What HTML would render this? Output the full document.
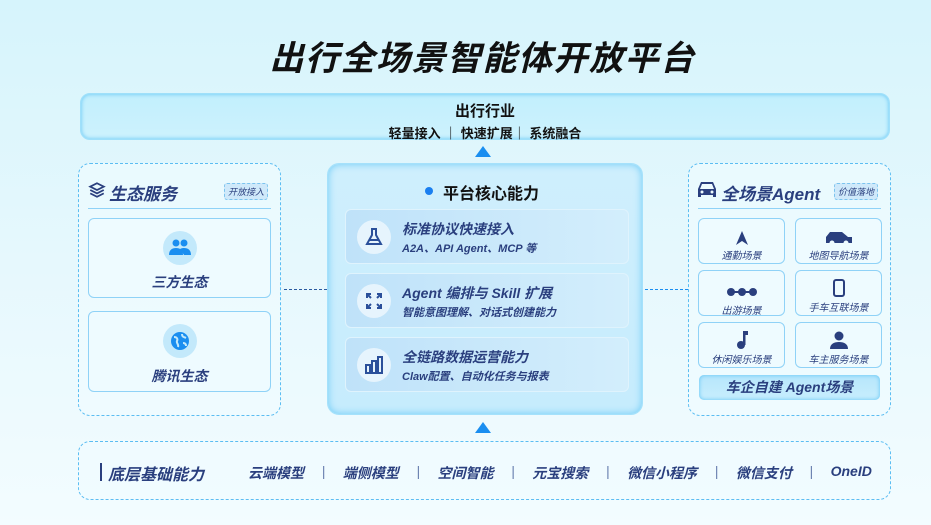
<!DOCTYPE html>
<html><head><meta charset="utf-8"><style>
*{box-sizing:border-box;margin:0;padding:0}
body{width:931px;height:525px;overflow:hidden;background:linear-gradient(180deg,#d6f4fc 0%,#e6f8fd 50%,#f3fcff 100%);font-family:"Liberation Sans","Noto Sans CJK SC",sans-serif;position:relative;color:#2a3f7e}
.a{position:absolute}
.it{font-style:italic}
.title{left:17px;width:931px;top:31px;text-align:center;font-size:34px;font-weight:bold;color:#111;letter-spacing:1.5px;font-style:italic}
.top{left:80px;top:93px;width:810px;height:47px;border-radius:10px;background:linear-gradient(180deg,#c2effd,#cdf2fd);box-shadow:0 0 4px #5cc3f5 inset;border:1px solid #9fe0fa;text-align:center;color:#111}
.dash{border:1.5px dashed #5bbdf2;border-radius:12px;background:rgba(240,252,255,.6)}
.card{border:1px solid #8fd2f7;border-radius:6px;background:#eefbff}
.tri{width:0;height:0;border-left:8px solid transparent;border-right:8px solid transparent;border-bottom:11px solid #1a8ef0}
.center{left:327px;top:163px;width:316px;height:252px;border-radius:12px;background:linear-gradient(180deg,#cfeffd,#c6ecfd);box-shadow:0 0 8px #6dcbf7 inset;border:1px solid #a5e1fb}
.item{left:17px;width:284px;height:55px;border-radius:6px;background:linear-gradient(90deg,#bfe2f9,#d3eefc);border:1px solid #dff3fd}
.ic{left:11px;top:10px;width:34px;height:34px;border-radius:50%;background:#e6f4fd}
.tile{width:87px;height:46px;border:1px solid #8fd2f7;border-radius:6px;background:#eefbff;text-align:center;font-size:10px;color:#2a3f7e}
.tile .g{height:26px;display:flex;align-items:flex-end;justify-content:center}
.badge{font-size:9px;border:1px dashed #7cc4ee;background:#cfe9fa;border-radius:3px;padding:1px 3px;color:#2a3f7e}
</style></head><body>
<div class="a title">出行全场景智能体开放平台</div>
<div class="a top"><div style="font-size:15px;margin-top:6px;font-weight:bold">出行行业</div><div style="font-size:13px;margin-top:2px;font-weight:bold">轻量接入 ｜ 快速扩展｜ 系统融合</div></div>
<div class="a tri" style="left:475px;top:146px"></div>

<!-- left -->
<div class="a dash" style="left:78px;top:163px;width:203px;height:253px"></div>
<svg class="a" style="left:88px;top:181px" width="18" height="18" viewBox="0 0 16 16" fill="none" stroke="#2a3f7e" stroke-width="1.6"><path d="M8 2L14 5 8 8 2 5Z"/><path d="M2 8l6 3 6-3"/><path d="M2 11l6 3 6-3"/></svg>
<div class="a it" style="left:109px;top:180px;font-size:17px;font-weight:bold">生态服务</div>
<div class="a badge it" style="left:224px;top:183px">开放接入</div>
<div class="a" style="left:88px;top:208px;width:183px;height:1px;background:#8fd2f7"></div>
<div class="a card" style="left:88px;top:218px;width:183px;height:80px"></div>
<div class="a" style="left:163px;top:231px;width:34px;height:34px;border-radius:50%;background:#c3e9fb"></div>
<svg class="a" style="left:168px;top:238px" width="24" height="20" viewBox="0 0 24 20" fill="#1a8ef0"><circle cx="8" cy="5" r="3.5"/><circle cx="16" cy="5" r="3.5"/><path d="M1 17c0-5 3-7 7-7s7 2 7 7z"/><path d="M12 11c2-1 3-1 4-1 4 0 7 2 7 7h-7z"/></svg>
<div class="a it" style="left:88px;width:183px;top:272px;text-align:center;font-size:14px;font-weight:bold">三方生态</div>
<div class="a card" style="left:88px;top:311px;width:183px;height:81px"></div>
<div class="a" style="left:163px;top:324px;width:34px;height:34px;border-radius:50%;background:#c3e9fb"></div>
<svg class="a" style="left:170px;top:331px" width="20" height="20" viewBox="0 0 20 20"><circle cx="10" cy="10" r="9" fill="#1a8ef0"/><path d="M4 6c3 0 4 2 3 4s2 3 1 6M12 3c0 3 2 3 4 4M13 12c2 0 3 1 3 3" stroke="#c3e9fb" stroke-width="2" fill="none"/></svg>
<div class="a it" style="left:88px;width:183px;top:366px;text-align:center;font-size:14px;font-weight:bold">腾讯生态</div>

<div class="a" style="left:284px;top:289px;width:43px;border-top:1.5px dashed #2a5aa0"></div>
<div class="a" style="left:645px;top:289px;width:43px;border-top:1.5px dashed #1a8ef0"></div>

<!-- center -->
<div class="a center">
 <div class="a" style="left:97px;top:23px;width:8px;height:8px;border-radius:50%;background:#1a7ff0"></div>
 <div class="a" style="left:115px;top:16px;font-size:16px;font-weight:bold;color:#111">平台核心能力</div>
 <div class="a item" style="top:45px"><div class="a ic"></div>
  <svg class="a" style="left:18px;top:17px" width="20" height="20" viewBox="0 0 20 20" fill="none" stroke="#2a4f9a" stroke-width="2"><path d="M7 2h6M8 2v6l-5 9h14l-5-9V2"/><path d="M5 13h10"/></svg>
  <div class="a it" style="left:56px;top:9px;font-size:14px;font-weight:bold">标准协议快速接入</div>
  <div class="a it" style="left:56px;top:30px;font-size:11px;font-weight:bold">A2A、API Agent、MCP 等</div></div>
 <div class="a item" style="top:109px"><div class="a ic"></div>
  <svg class="a" style="left:20px;top:19px" width="16" height="16" viewBox="0 0 16 16" fill="none" stroke="#2a4f9a" stroke-width="2"><path d="M1 5V1h4M1 1l4 4M15 5V1h-4M15 1l-4 4M1 11v4h4M1 15l4-4M15 11v4h-4M15 15l-4-4"/></svg>
  <div class="a it" style="left:56px;top:9px;font-size:14px;font-weight:bold">Agent 编排与 Skill 扩展</div>
  <div class="a it" style="left:56px;top:30px;font-size:11px;font-weight:bold">智能意图理解、对话式创建能力</div></div>
 <div class="a item" style="top:173px"><div class="a ic"></div>
  <svg class="a" style="left:19px;top:18px" width="18" height="18" viewBox="0 0 18 18" fill="none" stroke="#2a4f9a" stroke-width="2"><rect x="1" y="9" width="4" height="8"/><rect x="7" y="5" width="4" height="12"/><rect x="13" y="1" width="4" height="16"/></svg>
  <div class="a it" style="left:56px;top:9px;font-size:14px;font-weight:bold">全链路数据运营能力</div>
  <div class="a it" style="left:56px;top:30px;font-size:11px;font-weight:bold">Claw配置、自动化任务与报表</div></div>
</div>

<!-- right -->
<div class="a dash" style="left:688px;top:163px;width:203px;height:253px"></div>
<svg class="a" style="left:697px;top:181px" width="20" height="17" viewBox="0 0 20 17" fill="#2a3f7e"><path d="M4 1h12l3 7v8h-3v-2H4v2H1V8z"/><path d="M5 3h10l2 5H3z" fill="#eefbff"/><circle cx="5" cy="11" r="1.5" fill="#eefbff"/><circle cx="15" cy="11" r="1.5" fill="#eefbff"/></svg>
<div class="a it" style="left:721px;top:180px;font-size:17px;font-weight:bold">全场景Agent</div>
<div class="a badge it" style="left:834px;top:183px">价值落地</div>
<div class="a" style="left:698px;top:208px;width:183px;height:1px;background:#8fd2f7"></div>
<div class="a tile" style="left:698px;top:218px"><div class="g"><svg width="12" height="14" viewBox="0 0 12 14" fill="#2a3f7e"><path d="M6 0l6 14-6-4-6 4z"/></svg></div><div class="it" style="margin-top:2px">通勤场景</div></div>
<div class="a tile" style="left:795px;top:218px"><div class="g"><svg width="30" height="14" viewBox="0 0 30 14" fill="#2a3f7e"><path d="M2 6l4-5h12l6 5h4v6H2z"/><circle cx="8" cy="12" r="2.5" fill="#eefbff"/><circle cx="22" cy="12" r="2.5" fill="#eefbff"/></svg></div><div class="it" style="margin-top:2px">地图导航场景</div></div>
<div class="a tile" style="left:698px;top:270px"><div class="g"><svg width="30" height="10" viewBox="0 0 30 10" fill="#2a3f7e"><rect x="3" y="4" width="24" height="2"/><circle cx="4" cy="5" r="4"/><circle cx="15" cy="5" r="4"/><circle cx="26" cy="5" r="4"/></svg></div><div class="it" style="margin-top:5px">出游场景</div></div>
<div class="a tile" style="left:795px;top:270px"><div class="g"><svg width="12" height="18" viewBox="0 0 12 18" fill="none" stroke="#2a3f7e" stroke-width="2"><rect x="1" y="1" width="10" height="16" rx="2"/></svg></div><div class="it" style="margin-top:2px">手车互联场景</div></div>
<div class="a tile" style="left:698px;top:322px"><div class="g"><svg width="12" height="18" viewBox="0 0 12 18" fill="#2a3f7e"><rect x="7" y="0" width="2.5" height="14"/><rect x="7" y="0" width="5" height="4"/><circle cx="5" cy="14" r="4"/></svg></div><div class="it" style="margin-top:2px">休闲娱乐场景</div></div>
<div class="a tile" style="left:795px;top:322px"><div class="g"><svg width="18" height="18" viewBox="0 0 18 18" fill="#2a3f7e"><circle cx="9" cy="5" r="4.5"/><path d="M0 18c0-5 4-7 9-7s9 2 9 7z"/></svg></div><div class="it" style="margin-top:2px">车主服务场景</div></div>
<div class="a it" style="left:699px;top:375px;width:181px;height:25px;border-radius:5px;background:linear-gradient(180deg,#b6e6fc,#c8eefd);box-shadow:0 0 4px #5cc3f5 inset;text-align:center;font-size:14px;font-weight:bold;line-height:25px">车企自建 Agent场景</div>

<div class="a tri" style="left:475px;top:422px"></div>

<!-- bottom -->
<div class="a dash" style="left:78px;top:441px;width:813px;height:59px"></div>
<div class="a" style="left:100px;top:463px;width:2px;height:18px;background:#2a3f7e"></div>
<div class="a it" style="left:108px;top:461px;font-size:16px;font-weight:bold">底层基础能力</div>
<div class="a it" style="left:248px;top:463px;width:624px;font-size:14px;font-weight:bold;display:flex;justify-content:space-between">
<span>云端模型</span><span style="color:#6a80b0;font-weight:normal">|</span><span>端侧模型</span><span style="color:#6a80b0;font-weight:normal">|</span><span>空间智能</span><span style="color:#6a80b0;font-weight:normal">|</span><span>元宝搜索</span><span style="color:#6a80b0;font-weight:normal">|</span><span>微信小程序</span><span style="color:#6a80b0;font-weight:normal">|</span><span>微信支付</span><span style="color:#6a80b0;font-weight:normal">|</span><span>OneID</span></div>
</body></html>
